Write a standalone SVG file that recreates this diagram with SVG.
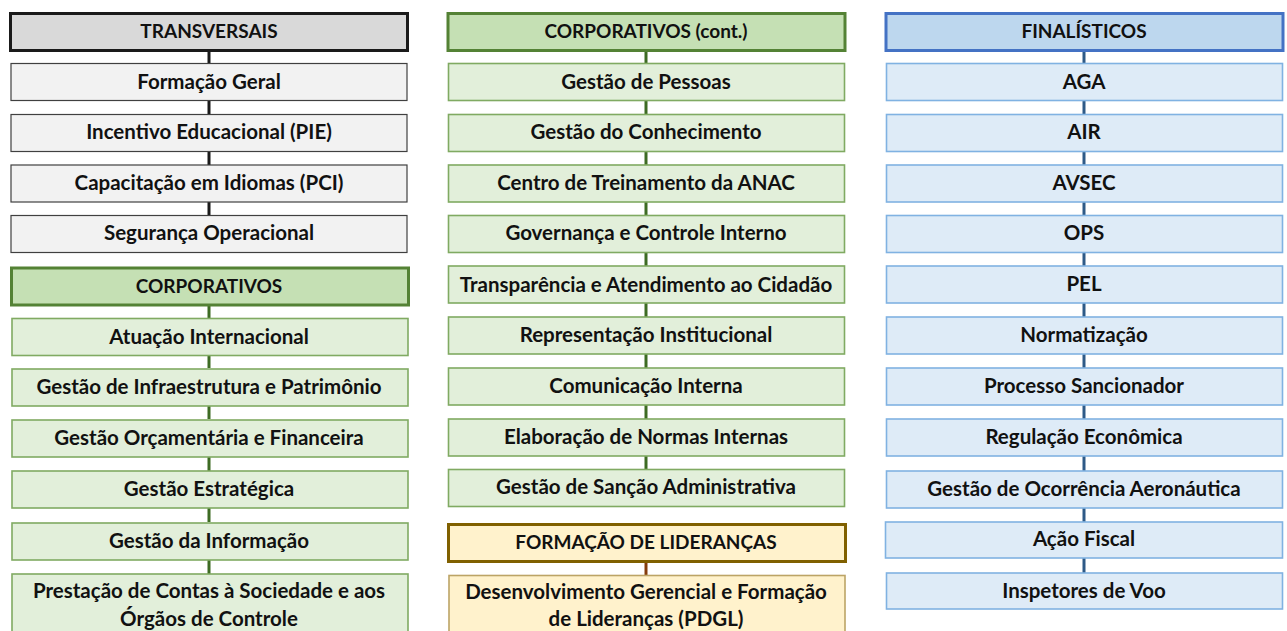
<svg xmlns="http://www.w3.org/2000/svg" width="1287" height="631" viewBox="0 0 1287 631">
<style>
text{font-family:Lato,"Open Sans","Liberation Sans",sans-serif;font-weight:bold;font-size:20.5px;fill:#111;text-anchor:middle;dominant-baseline:central}
text.h{font-size:19px}
.hg{fill:#d9d9d9;stroke:#1a1a1a;stroke-width:3}
.bg{fill:#f2f2f2;stroke:#404040;stroke-width:1.2}
.hv{fill:#c5e0b4;stroke:#548235;stroke-width:3}
.bv{fill:#e2efda;stroke:#80aa62;stroke-width:1.6}
.hy{fill:#fff2cc;stroke:#806000;stroke-width:3}
.by{fill:#fff2cc;stroke:#bca466;stroke-width:1.6}
.hb{fill:#bdd7ee;stroke:#4472c4;stroke-width:3}
.bb{fill:#deebf7;stroke:#80b2e2;stroke-width:1.6}
.c{stroke-width:3;fill:none}
</style>
<rect width="1287" height="631" fill="#fff"/>
<g id="connectors">
<path class="c" stroke="#1a1a1a" d="M209 51V63M209 101V114M209 151V165M209 202V215"/>
<path class="c" stroke="#3d6b23" d="M209 306V318M209 356V368M209 406V419M209 457V471M209 508V522M209 560V574"/>
<path class="c" stroke="#3d6b23" d="M646 51V63M646 101V114M646 151V165M646 202V215M646 252V266M646 303V317M646 354V368M646 405V419M646 456V469"/>
<path class="c" stroke="#843c0c" d="M646 562V575"/>
<path class="c" stroke="#2e5a87" d="M1084 51V63M1084 101V114M1084 151V165M1084 202V215M1084 252V266M1084 303V317M1084 354V368M1084 405V419M1084 456V471M1084 508V522M1084 558V573"/>
</g>
<g id="col1-transversais"><rect class="hg" x="10.5" y="13.5" width="397" height="37"/><text class="h" x="209" y="30">TRANSVERSAIS</text></g>
<g id="formacao-geral"><rect class="bg" x="11" y="63.5" width="396" height="37"/><text x="209" y="81">Formação Geral</text></g>
<g id="incentivo"><rect class="bg" x="11" y="114.5" width="396" height="37"/><text x="209" y="131">Incentivo Educacional (PIE)</text></g>
<g id="idiomas"><rect class="bg" x="11" y="165" width="396" height="37"/><text x="209" y="182">Capacitação em Idiomas (PCI)</text></g>
<g id="seguranca"><rect class="bg" x="11" y="215.5" width="396" height="37"/><text x="209" y="232">Segurança Operacional</text></g>
<g id="col1-corporativos"><rect class="hv" x="11.5" y="268" width="397" height="37"/><text class="h" x="209" y="285">CORPORATIVOS</text></g>
<g id="atuacao"><rect class="bv" x="12" y="318.5" width="396" height="37"/><text x="209" y="336">Atuação Internacional</text></g>
<g id="infraestrutura"><rect class="bv" x="12" y="369" width="396" height="37"/><text x="209" y="386">Gestão de Infraestrutura e Patrimônio</text></g>
<g id="orcamentaria"><rect class="bv" x="12" y="420" width="396" height="37"/><text x="209" y="437">Gestão Orçamentária e Financeira</text></g>
<g id="estrategica"><rect class="bv" x="12" y="471" width="396" height="37"/><text x="209" y="488">Gestão Estratégica</text></g>
<g id="informacao"><rect class="bv" x="12" y="523" width="396" height="37"/><text x="209" y="540">Gestão da Informação</text></g>
<g id="prestacao"><rect class="bv" x="12" y="574" width="396" height="62"/><text x="209" y="590">Prestação de Contas à Sociedade e aos</text><text x="209" y="618">Órgãos de Controle</text></g>
<g id="col2-corporativos-cont"><rect class="hv" x="448" y="13.5" width="397" height="37"/><text class="h" x="646" y="30">CORPORATIVOS (cont.)</text></g>
<g id="pessoas"><rect class="bv" x="448.5" y="63.5" width="396" height="37"/><text x="646" y="81">Gestão de Pessoas</text></g>
<g id="conhecimento"><rect class="bv" x="448.5" y="114.5" width="396" height="37"/><text x="646" y="131">Gestão do Conhecimento</text></g>
<g id="centro"><rect class="bv" x="448.5" y="165" width="396" height="37"/><text x="646" y="182">Centro de Treinamento da ANAC</text></g>
<g id="governanca"><rect class="bv" x="448.5" y="215.5" width="396" height="37"/><text x="646" y="232">Governança e Controle Interno</text></g>
<g id="transparencia"><rect class="bv" x="448.5" y="266" width="396" height="37"/><text x="646" y="284">Transparência e Atendimento ao Cidadão</text></g>
<g id="representacao"><rect class="bv" x="448.5" y="317" width="396" height="37"/><text x="646" y="334">Representação Institucional</text></g>
<g id="comunicacao"><rect class="bv" x="448.5" y="368" width="396" height="37"/><text x="646" y="385">Comunicação Interna</text></g>
<g id="normas"><rect class="bv" x="448.5" y="419" width="396" height="37"/><text x="646" y="436">Elaboração de Normas Internas</text></g>
<g id="sancao"><rect class="bv" x="448.5" y="469.5" width="396" height="37"/><text x="646" y="486">Gestão de Sanção Administrativa</text></g>
<g id="col2-liderancas"><rect class="hy" x="448.5" y="524.5" width="397" height="37"/><text class="h" x="646" y="541">FORMAÇÃO DE LIDERANÇAS</text></g>
<g id="pdgl"><rect class="by" x="449" y="575.5" width="396" height="62"/><text x="646" y="591">Desenvolvimento Gerencial e Formação</text><text x="646" y="618">de Lideranças (PDGL)</text></g>
<g id="col3-finalisticos"><rect class="hb" x="886" y="13.5" width="397" height="37"/><text class="h" x="1084" y="30">FINALÍSTICOS</text></g>
<g id="aga"><rect class="bb" x="886.5" y="63.5" width="396" height="37"/><text x="1084" y="81">AGA</text></g>
<g id="air"><rect class="bb" x="886.5" y="114.5" width="396" height="37"/><text x="1084" y="131">AIR</text></g>
<g id="avsec"><rect class="bb" x="886.5" y="165" width="396" height="37"/><text x="1084" y="182">AVSEC</text></g>
<g id="ops"><rect class="bb" x="886.5" y="215.5" width="396" height="37"/><text x="1084" y="232">OPS</text></g>
<g id="pel"><rect class="bb" x="886.5" y="266" width="396" height="37"/><text x="1084" y="283">PEL</text></g>
<g id="normatizacao"><rect class="bb" x="886.5" y="317" width="396" height="37"/><text x="1084" y="334">Normatização</text></g>
<g id="sancionador"><rect class="bb" x="886.5" y="368" width="396" height="37"/><text x="1084" y="385">Processo Sancionador</text></g>
<g id="regulacao"><rect class="bb" x="886.5" y="419" width="396" height="37"/><text x="1084" y="436">Regulação Econômica</text></g>
<g id="ocorrencia"><rect class="bb" x="886.5" y="471" width="396" height="37"/><text x="1084" y="488">Gestão de Ocorrência Aeronáutica</text></g>
<g id="acao-fiscal"><rect class="bb" x="885.5" y="522" width="397" height="36"/><text x="1084" y="538">Ação Fiscal</text></g>
<g id="inspetores"><rect class="bb" x="886.5" y="573" width="396" height="36"/><text x="1084" y="590">Inspetores de Voo</text></g>
</svg>
